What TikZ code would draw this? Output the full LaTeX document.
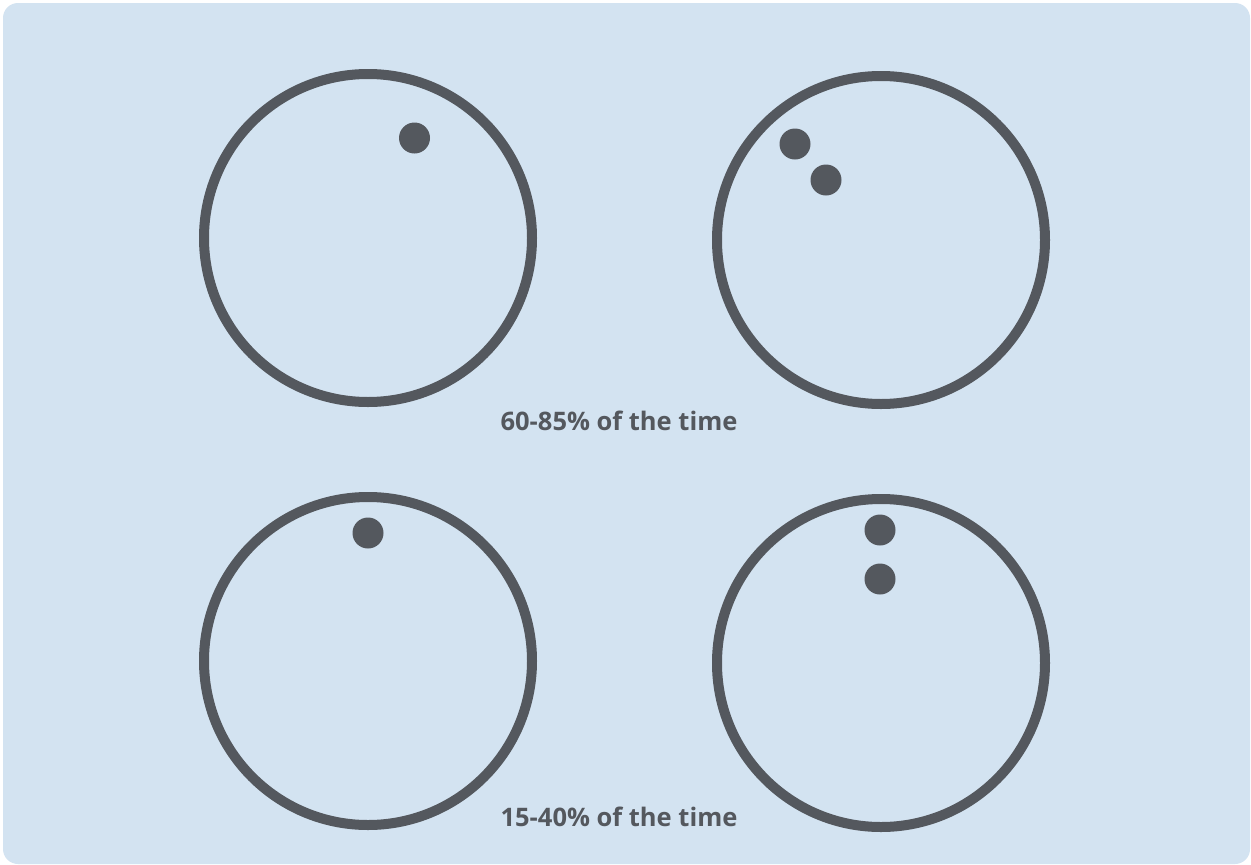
\documentclass[tikz,border=0pt]{standalone}
\usepackage{fontspec}
\setmainfont{Open Sans}
\definecolor{bg}{HTML}{D3E3F1}
\definecolor{ink}{HTML}{54585E}
\begin{document}
\begin{tikzpicture}[x=1pt,y=-1pt,
  ring/.style={draw=ink,line width=10pt},
  dot/.style={circle,fill=ink,minimum size=31pt,inner sep=0pt},
  lab/.style={text=ink,font=\bfseries\fontsize{25.5}{30}\selectfont}]
\useasboundingbox (0,0) rectangle (1251,865);
\fill[white] (0,0) rectangle (1251,865);
\fill[bg,rounded corners=15pt] (3,3) rectangle (1250,864);
\draw[ring] (368,238) circle (164);
\draw[ring] (881,240) circle (164);
\draw[ring] (368,661) circle (164);
\draw[ring] (881,663) circle (164);
\node[dot] (d1) at (414.5,138) {};
\node[dot] (d2) at (795,144) {};
\node[dot] (d3) at (826,180) {};
\node[dot] (d4) at (368,533) {};
\node[dot] (d5) at (880,530) {};
\node[dot] (d6) at (880,579) {};
\node[lab] (t1) at (619,421) {60-85\% of the time};
\node[lab] (t2) at (619,817) {15-40\% of the time};
\end{tikzpicture}
\end{document}
